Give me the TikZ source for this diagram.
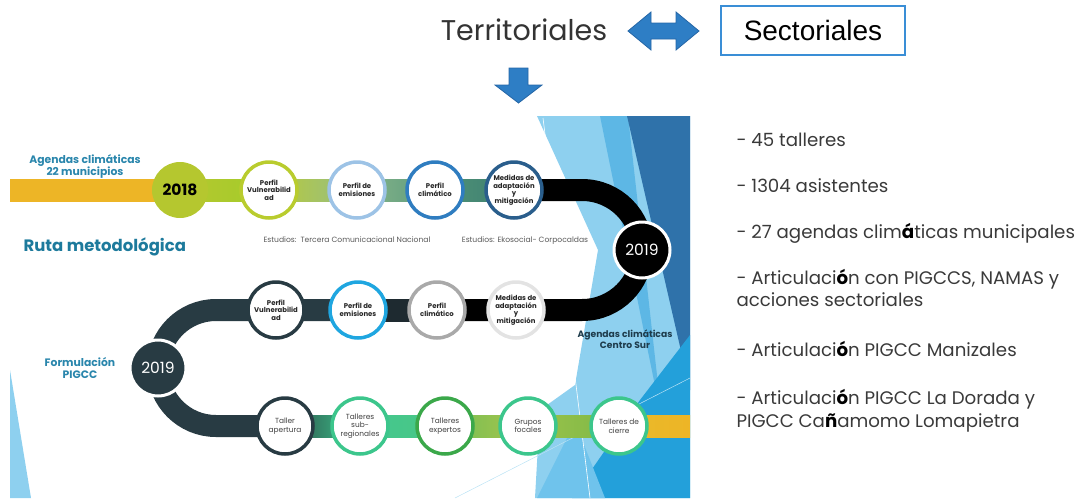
\documentclass[tikz,border=0pt]{standalone}
\usepackage{fontspec}
\setmainfont{Poppins}
\newfontfamily\arialfont{Liberation Sans}
\usepackage{xcolor}
\usepackage{tikz}
\usetikzlibrary{calc}

\definecolor{arrowblue}{HTML}{2E7EC5}
\definecolor{arrowedge}{HTML}{2566A6}
\definecolor{boxblue}{HTML}{3A8ED6}
\definecolor{greytext}{HTML}{3A3A3A}
\definecolor{rutateal}{HTML}{2A86AC}
\definecolor{rutaoscuro}{HTML}{1D7A9C}
\definecolor{azulnoche}{HTML}{1E3C4C}
\definecolor{amarillo}{HTML}{EDB526}
\definecolor{amarillodos}{HTML}{E9BA2B}
\definecolor{olivo}{HTML}{B5C72F}
\definecolor{pizarra}{HTML}{283B43}
\definecolor{casinegro}{HTML}{1E2A30}
\definecolor{cielo}{HTML}{8ED0EF}
\definecolor{cielomedio}{HTML}{5DB7E5}
\definecolor{cieloclaro}{HTML}{6FC3EC}
\definecolor{azuloscuro}{HTML}{2F72AA}
\definecolor{azulvivo}{HTML}{23A0DA}
\definecolor{menta}{HTML}{3CC68C}
\definecolor{mentados}{HTML}{45C890}
\definecolor{mentatres}{HTML}{48C684}
\definecolor{pino}{HTML}{2D4F4A}
\definecolor{verdeuno}{HTML}{95BE86}
\definecolor{verdedos}{HTML}{86B487}
\definecolor{verdetres}{HTML}{5E9C80}
\definecolor{verdecuatro}{HTML}{4F9378}
\definecolor{verdecinco}{HTML}{3F7F70}
\definecolor{hojauno}{HTML}{73BE55}
\definecolor{hojados}{HTML}{AAC54B}
\definecolor{hojatres}{HTML}{9CC24A}
\definecolor{hojacuatro}{HTML}{7DB947}
\definecolor{bordelima}{HTML}{B9CC2E}
\definecolor{bordecielo}{HTML}{9DC3E6}
\definecolor{bordeazul}{HTML}{2F7DC0}
\definecolor{bordemarino}{HTML}{2A5E8C}
\definecolor{bordecian}{HTML}{1FA6E0}
\definecolor{bordegris}{HTML}{A9A9A9}
\definecolor{bordeclaro}{HTML}{E3E3E3}
\definecolor{bordeverde}{HTML}{3BA84A}

\newcommand{\barra}[4]{\shade[left color=#1,right color=#2] ($(#3)+(0,-11)$) rectangle ($(#4)+(0,11)$);}
\newcommand{\marca}[1]{{\bfseries\color{black}#1}}

\begin{document}
\begin{tikzpicture}[x=1pt,y=-1pt,
  paso/.style={circle,minimum size=56pt,line width=3.5pt,fill=white,inner sep=0pt,align=center,font=\fontsize{6.9}{7.6}\selectfont\bfseries,text=black!85},
  taller/.style={paso,font=\fontsize{7.4}{8.6}\selectfont,text=black!75},
  anio/.style={circle,minimum size=56pt,line width=3pt,draw=white,inner sep=0pt,text=white,font=\fontsize{15.5}{15.5}\selectfont},
  titulo/.style={align=center,text=rutateal,font=\fontsize{10.8}{12}\selectfont\bfseries},
  estudio/.style={text=black!65,font=\fontsize{7.6}{8.5}\selectfont},
  item/.style={anchor=base west,text=greytext,font=\fontsize{18.2}{21}\selectfont}]

\useasboundingbox (0,0) rectangle (1089,498);

% fondo de la lamina
\fill[cielo] (537,116) -- (690,116) -- (690,498) -- (535,498) -- (540,410) -- (575,385) -- (598,250) -- cycle;
\fill[cielomedio] (600,116) -- (628,116) -- (662,420) -- cycle;
\fill[azuloscuro] (627,116) -- (690,116) -- (690,390) -- cycle;
\fill[azulvivo] (690,335) -- (690,498) -- (572,498) -- (640,400) -- cycle;
\fill[cieloclaro] (575,422) -- (605,498) -- (537,498) -- cycle;
\draw[white,line width=0.6pt] (543,118) -- (590,498);
\draw[cielo!60,line width=0.5pt] (455,498) -- (690,378);
\fill[cielo] (10,370) -- (31,498) -- (10,498) -- cycle;

% Territoriales / Sectoriales
\node[font=\fontsize{28.5}{28.5}\selectfont,text=black!80] (terr) at (524,30) {Territoriales};
\node[draw=boxblue,line width=1.5pt,minimum width=184pt,minimum height=49pt,font=\arialfont\fontsize{28}{28}\selectfont] (sect) at (813,30.5) {Sectoriales};
\filldraw[fill=arrowblue,draw=arrowedge,line width=0.8pt] (628,31) -- (651,12) -- (651,23) -- (676,23) -- (676,12) -- (699,31) -- (676,50) -- (676,39) -- (651,39) -- (651,50) -- cycle;
\filldraw[fill=arrowblue,draw=arrowedge,line width=0.8pt] (509,68) -- (528,68) -- (528,85) -- (542,85) -- (518.5,103) -- (495,85) -- (509,85) -- cycle;

% posiciones de la ruta
\coordinate (p0) at (180,190);
\coordinate (p11) at (269,190);
\coordinate (p12) at (357,190);
\coordinate (p13) at (435,190);
\coordinate (p14) at (514,190);
\coordinate (q1) at (642,250);
\coordinate (p21) at (276,310);
\coordinate (p22) at (358,310);
\coordinate (p23) at (437,310);
\coordinate (p24) at (516,310);
\coordinate (q2) at (158,368);
\coordinate (p31) at (285,426);
\coordinate (p32) at (360,426);
\coordinate (p33) at (445,426);
\coordinate (p34) at (528,426);
\coordinate (p35) at (619,426);

% barras
\barra{amarillo}{amarillo}{10,190}{p0}
\barra{olivo}{olivo!90!green}{p0}{p11}
\barra{olivo!95!white}{verdeuno}{p11}{p12}
\barra{verdedos}{verdetres}{p12}{p13}
\barra{verdecuatro}{verdecinco}{p13}{p14}
\draw[line width=22pt,black] (p14) -- (582,190) arc[start angle=-90,end angle=90,radius=60] -- (p23);
\barra{casinegro}{casinegro}{p22}{p23}
\draw[line width=22pt,pizarra] (p22) -- (216,310) arc[start angle=-90,end angle=-270,radius=58] -- (p31);
\barra{pino}{menta}{p31}{p32}
\barra{mentados}{mentatres}{p32}{p33}
\barra{hojauno}{hojados}{p33}{p34}
\barra{hojatres}{hojacuatro}{p34}{p35}
\barra{amarillodos}{amarillo}{p35}{690,426}

% circulos
\node[circle,minimum size=56pt,fill=olivo,inner sep=0pt,font=\fontsize{15.5}{15.5}\selectfont\bfseries] (n2018) at (p0) {2018};
\node[paso,draw=bordelima] (c11) at (p11) {Perfil\\Vulnerabilid\\ad};
\node[paso,draw=bordecielo] (c12) at (p12) {Perfil de\\emisiones};
\node[paso,draw=bordeazul] (c13) at (p13) {Perfil\\climático};
\node[paso,draw=bordemarino] (c14) at (p14) {Medidas de\\adaptación\\y\\mitigación};
\node[anio,fill=black] (n2019a) at (q1) {2019};
\node[paso,draw=pizarra] (c21) at (p21) {Perfil\\Vulnerabilid\\ad};
\node[paso,draw=bordecian] (c22) at (p22) {Perfil de\\emisiones};
\node[paso,draw=bordegris] (c23) at (p23) {Perfil\\climático};
\node[paso,draw=bordeclaro] (c24) at (p24) {Medidas de\\adaptación\\y\\mitigación};
\node[anio,fill=pizarra] (n2019b) at (q2) {2019};
\node[taller,draw=pizarra] (c31) at (p31) {Taller\\apertura};
\node[taller,draw=menta] (c32) at (p32) {Talleres\\sub-\\regionales};
\node[taller,draw=bordeverde] (c33) at (p33) {Talleres\\expertos};
\node[taller,draw=menta] (c34) at (p34) {Grupos\\focales};
\node[taller,draw=menta] (c35) at (p35) {Talleres de\\cierre};

% textos de la lamina
\node[titulo] (agendas) at (85,166) {Agendas climáticas\\22 municipios};
\node[anchor=west,text=rutaoscuro,font=\fontsize{16.5}{18}\selectfont\bfseries] (ruta) at (20,247) {Ruta metodológica};
\node[estudio] (est1) at (347,240) {Estudios:\ \ Tercera Comunicacional Nacional};
\node[estudio] (est2) at (525,241) {Estudios: Ekosocial- Corpocaldas};
\node[titulo,text=azulnoche,font=\fontsize{9.2}{11}\selectfont\bfseries] (centro) at (625,339) {Agendas climáticas\\Centro Sur};
\node[titulo] (formula) at (80,368) {Formulación\\PIGCC};

% lista de la derecha
\node[item] (t1) at (733,146) {- 45 talleres};
\node[item] (t2) at (733,192) {- 1304 asistentes};
\node[item] (t3) at (733,238) {- 27 agendas clim\marca{á}ticas municipales};
\node[item] (t4) at (733,284) {- Articulaci\marca{ó}n con PIGCCS, NAMAS y};
\node[item] (t4b) at (733,306) {acciones sectoriales};
\node[item] (t5) at (733,356) {- Articulaci\marca{ó}n PIGCC Manizales};
\node[item] (t6) at (733,404) {- Articulaci\marca{ó}n PIGCC La Dorada y};
\node[item] (t6b) at (733,427) {PIGCC Ca\marca{ñ}amomo Lomapietra};
\end{tikzpicture}
\end{document}
